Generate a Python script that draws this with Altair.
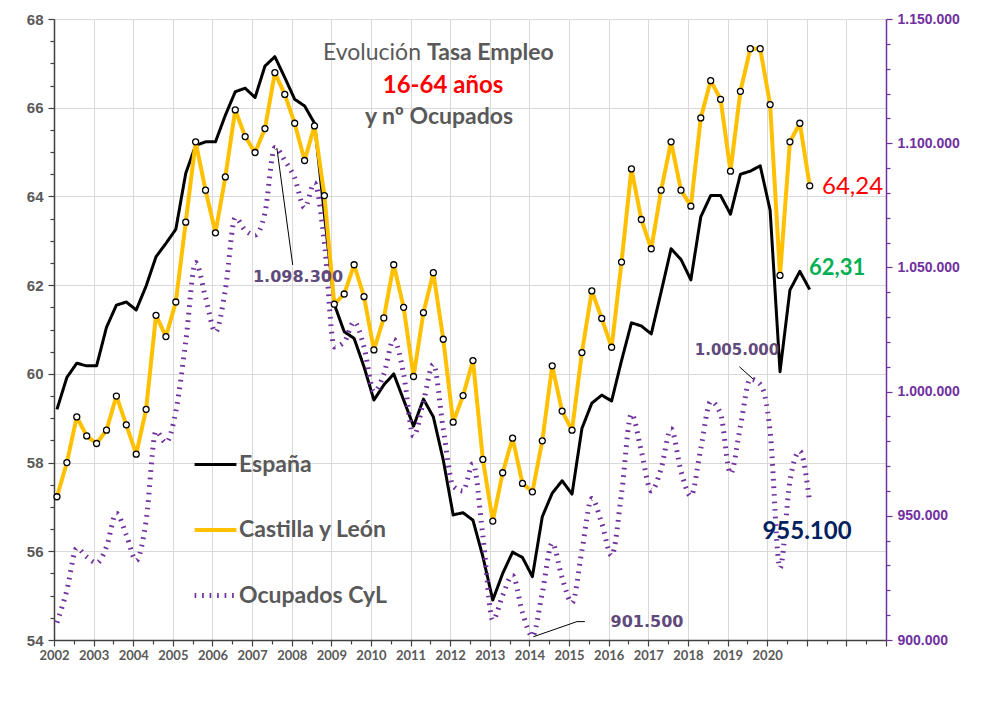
import altair as alt
import pandas as pd

# ---------------- data (quarterly, 2002 T1 .. 2021 T1) ----------------
first_year = 2002
espana = [59.20, 59.92, 60.24, 60.18, 60.18, 61.05, 61.55, 61.62, 61.44, 61.98,
          62.64, 62.94, 63.26, 64.52, 65.15, 65.23, 65.23, 65.83, 66.36, 66.44,
          66.23, 66.94, 67.15, 66.68, 66.19, 66.04, 65.65, 63.60, 61.57, 60.95,
          60.80, 60.16, 59.41, 59.75, 60.00, 59.41, 58.82, 59.43, 59.03, 58.06,
          56.82, 56.87, 56.70, 55.88, 54.90, 55.50, 55.98, 55.86, 55.43, 56.78,
          57.31, 57.59, 57.29, 58.77, 59.34, 59.52, 59.39, 60.30, 61.15, 61.08,
          60.90, 61.85, 62.82, 62.58, 62.12, 63.54, 64.02, 64.02, 63.60, 64.50,
          64.57, 64.69, 63.69, 60.05, 61.89, 62.31, 61.90]
cyl = [57.23, 58.00, 59.03, 58.60, 58.43, 58.73, 59.50, 58.85, 58.19, 59.20,
       61.32, 60.84, 61.62, 63.42, 65.23, 64.14, 63.18, 64.44, 65.95, 65.35,
       64.99, 65.53, 66.79, 66.30, 65.65, 64.81, 65.59, 64.02, 61.57, 61.80,
       62.46, 61.74, 60.54, 61.26, 62.46, 61.50, 59.94, 61.38, 62.28, 60.78,
       58.91, 59.51, 60.30, 58.07, 56.68, 57.77, 58.55, 57.53, 57.34, 58.49,
       60.18, 59.16, 58.73, 60.48, 61.87, 61.25, 60.60, 62.52, 64.62, 63.48,
       62.82, 64.14, 65.23, 64.14, 63.78, 65.77, 66.61, 66.19, 64.57, 66.37,
       67.33, 67.33, 66.07, 62.22, 65.23, 65.65, 64.24]
ocupados = [907000, 920000, 937000, 933500, 931000, 937500, 951000, 942300, 932000, 948000,
            984000, 979500, 992000, 1020000, 1052000, 1038000, 1024000, 1041000, 1070000, 1065000,
            1063000, 1072000, 1098300, 1093000, 1086000, 1074000, 1084000, 1060000, 1018000, 1020000,
            1028000, 1018000, 1000000, 1007000, 1021000, 1007000, 982000, 996000, 1011000, 985000,
            962000, 960000, 971000, 942000, 908000, 918000, 926000, 911000, 901500, 919000,
            939000, 925000, 915000, 936000, 957000, 947000, 934000, 959000, 991000, 976000,
            960000, 969000, 985000, 968000, 958000, 977000, 996000, 991000, 967000, 986000,
            1005000, 1003000, 984000, 929000, 964000, 976000, 955100]

series = ["España", "Castilla y León", "Ocupados CyL"]
series_colors = ["#000000", "#FFC000", "#7030A0"]

# leader lines of the annotations (quarter position, persons)
lead_t1 = [22.5, 69.2, 48.4, 52.8]
lead_t2 = [24.1, 70.6, 52.8, 53.6]
lead_v1 = [1098100, 1010000, 901300, 907400]
lead_v2 = [1051000, 1005000, 907400, 907400]

offset = 0.3
n = len(espana)
t = [i + offset for i in range(n)]

df_esp = pd.DataFrame({"t": t, "tasa": espana, "serie": series[0]})
df_cyl = pd.DataFrame({"t": t, "tasa": cyl, "serie": series[1]})
df_ocu = pd.DataFrame({"t": t, "ocup": ocupados, "serie": series[2]})
df_lead = pd.DataFrame({"t1": lead_t1, "t2": lead_t2, "v1": lead_v1, "v2": lead_v2})


def es_num(v, dec=0):
    if dec:
        return f"{v:.{dec}f}".replace(".", ",")
    return f"{int(round(v)):,}".replace(",", ".")


GRAY = "#595959"
PURPLE = "#7030A0"
ANN = "#604A7B"

x_axis = alt.Axis(
    values=list(range(0, 85, 2)),
    labelExpr="datum.value % 4 === 0 && datum.value <= 72 ? '' + (2002 + datum.value / 4) : ''",
    grid=True, gridColor="#D9D9D9",
    gridOpacity={"condition": {"test": "datum.value % 4 === 0", "value": 1}, "value": 0},
    tickSize={"condition": {"test": "datum.value % 4 === 0", "value": 6}, "value": 4},
    tickColor="#404040", domainColor="#404040", domainWidth=1.5, tickWidth=1.2,
    labelFont="Lato", labelFontWeight="bold", labelFontSize=13, labelColor=GRAY,
    labelPadding=3, labelFlush=False, labelOverlap=False, title=None,
)
x_enc = alt.X("t:Q", scale=alt.Scale(domain=[0, 84], nice=False, zero=False), axis=x_axis)

left_axis = alt.Axis(
    values=[54 + 0.5 * k for k in range(29)],
    labelExpr="datum.value % 2 === 0 ? format(datum.value, 'd') : ''",
    grid=True, gridColor="#D9D9D9",
    gridOpacity={"condition": {"test": "datum.value % 2 === 0", "value": 1}, "value": 0},
    tickSize={"condition": {"test": "datum.value % 2 === 0", "value": 6}, "value": 4},
    tickColor="#404040", domainColor="#404040", domainWidth=1.5, tickWidth=1.2,
    labelFont="Liberation Sans", labelFontWeight="bold", labelFontSize=15, labelColor=GRAY,
    labelPadding=5, labelOverlap=False, title=None,
)
y_left = alt.Y("tasa:Q", scale=alt.Scale(domain=[54, 68], nice=False, zero=False), axis=left_axis)

right_axis = alt.Axis(
    orient="right",
    values=list(range(900000, 1150001, 10000)),
    labelExpr="datum.value % 50000 === 0 ? replace(format(datum.value, ','), regexp(',', 'g'), '.') : ''",
    grid=False,
    tickSize={"condition": {"test": "datum.value % 50000 === 0", "value": 6}, "value": 4},
    tickColor=PURPLE, domainColor=PURPLE, domainWidth=1.5, tickWidth=1.2,
    labelFont="Liberation Sans", labelFontWeight="bold", labelFontSize=14, labelColor=PURPLE,
    labelPadding=5, labelOverlap=False, title=None,
)
y_right = alt.Y("ocup:Q", scale=alt.Scale(domain=[900000, 1150000], nice=False, zero=False), axis=right_axis)

legend = alt.Legend(
    orient="none", legendX=138, legendY=423, title=None,
    symbolType="stroke", symbolSize=1750, symbolStrokeWidth=4,
    labelFont="Lato", labelFontSize=23, labelFontWeight="bold", labelColor=GRAY,
    rowPadding=30, padding=0, labelOffset=0,
)
color_enc = alt.Color("serie:N", scale=alt.Scale(domain=series, range=series_colors), legend=legend)
width_enc = alt.StrokeWidth("serie:N", scale=alt.Scale(domain=series, range=[3, 5, 3.4]), legend=legend)
dash_enc = alt.StrokeDash("serie:N", scale=alt.Scale(domain=series, range=[[1, 0], [1, 0], [1.7, 5.8]]), legend=legend)

esp_line = alt.Chart(df_esp).mark_line(strokeJoin="round").encode(
    x=x_enc, y=y_left, color=color_enc, strokeWidth=width_enc, strokeDash=dash_enc)
cyl_line = alt.Chart(df_cyl).mark_line(strokeJoin="round").encode(
    x=x_enc, y=y_left, color=color_enc, strokeWidth=width_enc, strokeDash=dash_enc)
cyl_pts = alt.Chart(df_cyl).mark_point(
    shape="circle", filled=True, fill="white", stroke="black", strokeWidth=1.3, size=36, opacity=1
).encode(x=x_enc, y=y_left)

left = alt.layer(esp_line, cyl_line, cyl_pts)

ocu_line = alt.Chart(df_ocu).mark_line(interpolate="monotone").encode(
    x=x_enc, y=y_right, color=color_enc, strokeWidth=width_enc, strokeDash=dash_enc)
leads = alt.Chart(df_lead).mark_rule(color="black", strokeWidth=1).encode(
    x=alt.X("t1:Q", scale=alt.Scale(domain=[0, 84], nice=False, zero=False), axis=x_axis),
    x2="t2:Q",
    y=alt.Y("v1:Q", scale=alt.Scale(domain=[900000, 1150000], nice=False, zero=False), axis=right_axis),
    y2="v2:Q",
)
right = alt.layer(ocu_line, leads)


def txt(text, x, y, color, size, weight="normal", align="center", font="Lato"):
    return alt.Chart(pd.DataFrame({"s": [text]})).mark_text(
        align=align, baseline="middle", color=color, fontSize=size, fontWeight=weight, font=font
    ).encode(text="s:N", x=alt.value(x), y=alt.value(y))


texts = [
    txt("Evolución", 367, 34, GRAY, 23, "normal", "right"),
    txt("Tasa Empleo", 373, 34, GRAY, 23, "bold", "left"),
    txt("16-64 años", 389, 67, "#FF0000", 24, "bold"),
    txt("y nº Ocupados", 385, 98, GRAY, 23, "bold"),
    txt(es_num(max(ocupados)), 244, 258, ANN, 16, "bold", "center", "DejaVu Sans"),
    txt(es_num(ocupados[70]), 683, 331, ANN, 15, "bold", "center", "DejaVu Sans"),
    txt(es_num(min(ocupados)), 593, 603, ANN, 16, "bold", "center", "DejaVu Sans"),
    txt(es_num(cyl[-1], 2), 768, 168, "#FF0000", 24, "normal", "left"),
    txt(es_num(espana[-2], 2), 755, 249, "#00B050", 22, "bold", "left"),
    txt(es_num(ocupados[-1]), 753, 513, "#002060", 24, "bold"),
]

chart = alt.layer(left, right, *texts).resolve_scale(y="independent").properties(
    width=832, height=621,
    padding={"left": 46, "top": 11, "right": 90, "bottom": 50},
    autosize=alt.AutoSizeParams(type="none"),
    background="white",
).configure_view(stroke=None)

chart.save("out.html", embed_options={"renderer": "svg", "actions": False})
